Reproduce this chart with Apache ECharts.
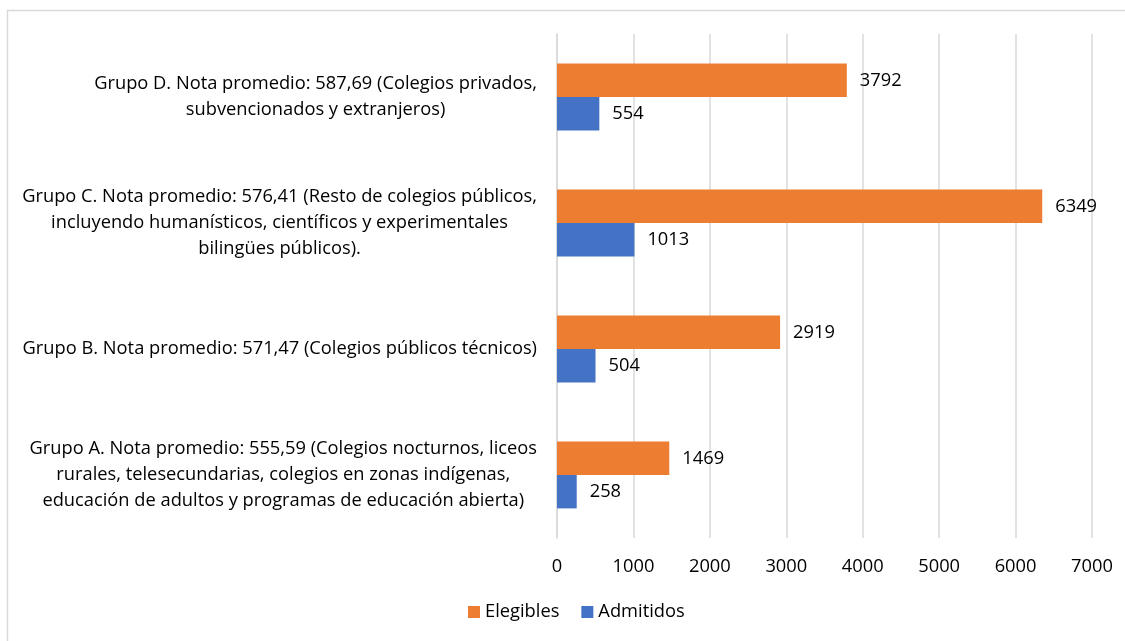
<!DOCTYPE html>
<html>
<head>
<meta charset="utf-8">
<script src="https://cdn.jsdelivr.net/npm/echarts@6/dist/echarts.min.js"></script>
<style>
  html, body { margin: 0; padding: 0; background: #fff; }
  #main { width: 1125px; height: 641px; }
</style>
</head>
<body>
<div id="main"></div>
<script>
// categories, bottom to top
const grupos = [
  ['Grupo A. Nota promedio: 555,59 (Colegios nocturnos, liceos', 'rurales, telesecundarias, colegios en zonas indígenas,', 'educación de adultos y programas de educación abierta)'],
  ['Grupo B. Nota promedio: 571,47 (Colegios públicos técnicos)'],
  ['Grupo C. Nota promedio: 576,41 (Resto de colegios públicos,', 'incluyendo humanísticos, científicos y experimentales', 'bilingües públicos).'],
  ['Grupo D. Nota promedio: 587,69 (Colegios privados,', 'subvencionados y extranjeros)']
];
const elegibles = [1469, 2919, 6349, 3792];
const admitidos = [258, 504, 1013, 554];
const ejeX = [0, 1000, 2000, 3000, 4000, 5000, 6000, 7000];

const font = '"Open Sans", Lato, sans-serif';
const fs = 18.3;
const chart = echarts.init(document.getElementById('main'));

chart.setOption({
  backgroundColor: '#fff',
  textStyle: { fontFamily: font },
  graphic: [{
    type: 'rect',
    shape: { x: 7.5, y: 10.5, width: 1300, height: 800 },
    style: { fill: 'none', stroke: '#d9d9d9', lineWidth: 1.5 },
    silent: true
  }],
  grid: { left: 557, right: 33, top: 34, bottom: 103, containLabel: false },
  legend: {
    data: ['Elegibles', 'Admitidos'],
    bottom: 15,
    left: 463,
    icon: 'rect',
    itemWidth: 12,
    itemHeight: 12,
    itemGap: 22,
    textStyle: { fontFamily: font, fontSize: fs, color: '#000' }
  },
  xAxis: {
    type: 'value',
    min: ejeX[0],
    max: ejeX[ejeX.length - 1],
    interval: 1000,
    axisLine: { show: false },
    axisTick: { show: false },
    splitLine: { lineStyle: { color: '#d9d9d9', width: 1.5 } },
    axisLabel: { fontFamily: font, fontSize: fs, color: '#000', margin: 20, formatter: v => String(v) }
  },
  yAxis: {
    type: 'category',
    data: grupos.map(g => g.join('\n')),
    axisLine: { lineStyle: { color: '#d9d9d9', width: 1.5 } },
    axisTick: { show: false },
    axisLabel: {
      margin: 20,
      align: 'right',
      formatter: v => v.split('\n').map(l => '{c|' + l + '}').join('\n'),
      rich: {
        c: { align: 'center', fontFamily: font, fontSize: fs, color: '#000', lineHeight: 26 }
      }
    }
  },
  series: [
    {
      name: 'Elegibles',
      type: 'bar',
      data: elegibles,
      barGap: '0%',
      barCategoryGap: '47%',
      itemStyle: { color: '#ed7d31' },
      label: { show: true, position: 'right', distance: 13, fontFamily: font, fontSize: fs, color: '#000' }
    },
    {
      name: 'Admitidos',
      type: 'bar',
      data: admitidos,
      barGap: '0%',
      barCategoryGap: '47%',
      itemStyle: { color: '#4472c4' },
      label: { show: true, position: 'right', distance: 13, fontFamily: font, fontSize: fs, color: '#000' }
    }
  ]
});
</script>
</body>
</html>
